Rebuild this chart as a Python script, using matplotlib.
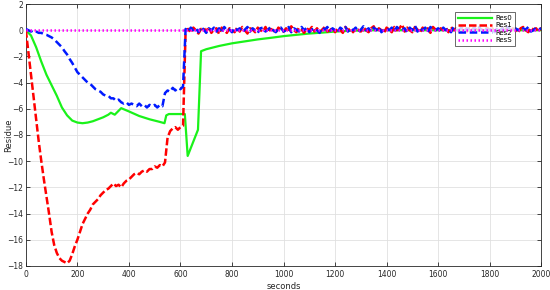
import numpy as np
import matplotlib
matplotlib.use("Agg")
import matplotlib.pyplot as plt

# sample times (s)
t = np.arange(0, 2001, 10)

# Res0 (smooth) knots
t0 = [0, 20, 40, 60, 80, 100, 120, 140, 160, 180, 200, 220, 240, 260, 280, 300, 320, 330,
      345, 370, 400, 440, 480, 520, 538, 545, 555, 617, 628, 668, 680, 700, 750, 800, 850,
      900, 950, 1000, 1050, 1100, 1150, 1200, 1250, 1300, 1350, 2000]
res0 = [0, -0.4, -1.3, -2.4, -3.4, -4.2, -5.0, -5.9, -6.5, -6.9, -7.05, -7.1, -7.05, -6.95,
        -6.8, -6.65, -6.45, -6.3, -6.45, -5.95, -6.2, -6.55, -6.8, -7.0, -7.1, -6.5, -6.4,
        -6.4, -9.6, -7.6, -1.6, -1.45, -1.2, -1.0, -0.85, -0.7, -0.58, -0.45, -0.35, -0.25,
        -0.18, -0.1, -0.05, -0.02, 0.0, 0.0]

res1 = [0.0, -1.7, -3.4, -5.1, -6.8, -8.5, -10.0, -11.4, -12.7, -14.0,
        -15.4, -16.4, -17.0, -17.4, -17.6, -17.7, -17.8, -17.6, -17.1, -16.5,
        -16.0, -15.4, -14.8, -14.4, -14.0, -13.7, -13.3, -13.1, -12.9, -12.6,
        -12.4, -12.2, -12.1, -11.9, -11.7, -11.9, -11.8, -12.0, -11.7, -11.5,
        -11.4, -11.2, -11.0, -10.9, -11.0, -10.8, -10.7, -10.8, -10.6, -10.6,
        -10.4, -10.5, -10.3, -10.4, -10.1, -8.2, -7.7, -7.5, -7.4, -7.6,
        -7.4, -7.3, 0.0,
        0.1, -0.2, 0.2, 0.0, -0.25, 0.1, 0.2, -0.1, 0.25, -0.2,
        0.05, 0.15, -0.3, 0.2, 0.0, -0.2, 0.15, 0.05, -0.15, 0.2,
        -0.1, 0.25, 0.0, -0.25, 0.15, 0.05, -0.15, 0.2, 0.0, -0.1,
        0.25, -0.15, 0.1, 0.0, -0.2, 0.2, 0.05, -0.1, 0.15, -0.15,
        0.3, 0.0, -0.15, 0.2, 0.05, -0.2, 0.15, 0.0, 0.25, -0.1,
        0.15, -0.15, 0.05, 0.25, -0.1, 0.0, 0.2, -0.15, 0.15, 0.05,
        -0.2, 0.25, 0.0, 0.15, -0.15, 0.2, 0.05, -0.1, 0.25, 0.0,
        -0.15, 0.15, 0.3, -0.1, 0.15, 0.0, -0.2, 0.2, 0.05, -0.15,
        0.25, 0.0, 0.15, 0.45, -0.1, 0.2, 0.0, -0.15, 0.25, 0.05,
        -0.15, 0.2, 0.0, 0.15, -0.2, 0.25, 0.05, -0.1, 0.15, 0.0,
        0.2, -0.15, 0.25, 0.0, 0.15, -0.1, 0.2, 0.05, -0.15, 0.15,
        0.0, 0.25, -0.1, 0.15, 0.05, -0.15, 0.2, 0.0, 0.15, -0.1,
        0.05, -0.15, 0.2, 0.0, 0.25, -0.1, 0.15, 0.0, -0.2, 0.15,
        0.25, 0.0, -0.15, 0.2, 0.05, 0.15, -0.1, 0.2]

res2 = [0.1, 0.0, -0.1, 0.0, -0.1, -0.2, -0.2, -0.3, -0.35, -0.45,
        -0.55, -0.7, -0.9, -1.1, -1.3, -1.6, -1.85, -2.2, -2.5, -2.85,
        -3.2, -3.4, -3.6, -3.8, -4.0, -4.1, -4.3, -4.5, -4.6, -4.7,
        -4.9, -5.0, -5.0, -5.2, -5.2, -5.4, -5.3, -5.5, -5.6, -5.5,
        -5.7, -5.6, -5.7, -5.8, -5.6, -5.8, -5.7, -5.9, -5.7, -5.8,
        -5.7, -5.9, -5.7, -5.8, -4.8, -4.6, -4.7, -4.4, -4.6, -4.4,
        -4.5, -4.3, 0.1,
        -0.1, 0.2, 0.0, 0.15, -0.15, 0.25, 0.05, -0.2, 0.15, 0.0,
        0.2, -0.1, 0.15, -0.2, 0.25, 0.0, 0.05, -0.15, 0.2, 0.0,
        0.15, -0.15, 0.05, 0.25, -0.1, 0.15, 0.0, -0.2, 0.15, 0.2,
        -0.1, 0.05, 0.25, 0.0, -0.15, 0.15, 0.2, -0.1, 0.0, 0.25,
        -0.15, 0.15, 0.05, -0.1, 0.25, 0.0, 0.2, -0.15, 0.05, 0.15,
        0.0, -0.2, 0.2, 0.05, 0.25, -0.1, 0.15, 0.0, -0.15, 0.2,
        0.05, 0.25, -0.1, 0.15, 0.0, 0.2, -0.15, 0.05, 0.3, 0.0,
        0.15, -0.1, 0.2, 0.0, 0.25, -0.15, 0.05, 0.15, 0.0, 0.2,
        -0.1, 0.25, 0.05, 0.0, 0.15, -0.15, 0.2, 0.0, 0.35, -0.1,
        0.15, 0.0, 0.2, -0.15, 0.25, 0.05, 0.0, 0.15, -0.1, 0.2,
        0.0, 0.15, -0.15, 0.25, 0.05, 0.0, 0.2, -0.1, 0.15, 0.05,
        -0.15, 0.2, 0.0, 0.25, -0.1, 0.15, 0.05, 0.0, 0.2, -0.15,
        0.2, 0.0, 0.15, -0.1, 0.25, 0.05, -0.15, 0.15, 0.0, 0.2,
        0.15, 0.05, 0.25, -0.1, 0.0, 0.2, 0.05, 0.15]

resS_t = [0, 2000]
resS = [0, 0]

labels = ["Res0", "Res1", "Res2", "ResS"]
xticks = list(range(0, 2001, 200))
yticks = list(range(-18, 3, 2))

fig = plt.figure(figsize=(5.5, 2.9), dpi=100)
ax = fig.add_axes([0.047, 0.083, 0.937, 0.903])

ax.plot(t0, res0, color=(0.1, 0.95, 0.1), lw=1.6, label=labels[0], zorder=3)
ax.plot(t, res1, color=(1.0, 0.0, 0.0), lw=1.8, ls=(0, (3, 1.2)), label=labels[1], zorder=4)
ax.plot(t, res2, color=(0.0, 0.1, 1.0), lw=1.8, ls=(0, (3, 1.5)), label=labels[2], zorder=5)
ax.plot(resS_t, resS, color=(1.0, 0.0, 1.0), lw=1.8, ls=(0, (0.6, 1.0)), label=labels[3], zorder=6)

ax.set_xlim(0, 2000)
ax.set_ylim(-18, 2)
ax.set_xticks(xticks)
ax.set_yticks(yticks)
ax.grid(True, color=(0.88, 0.88, 0.88), lw=0.6)
ax.set_axisbelow(True)
for s in ax.spines.values():
    s.set_color((0.15, 0.15, 0.15))
    s.set_linewidth(0.6)
ax.tick_params(direction="in", length=3, width=0.6, top=True, right=True,
               labelsize=5.5, colors=(0.15, 0.15, 0.15), pad=3)
ax.tick_params(axis="y", pad=2)
ax.set_xlabel("seconds", fontsize=6, color=(0.15, 0.15, 0.15), labelpad=2)
ax.set_ylabel("Residue", fontsize=6, color=(0.15, 0.15, 0.15), va="center")
ax.yaxis.set_label_coords(-0.033, 0.5)

leg = ax.legend(loc="upper right", fontsize=5, frameon=True, fancybox=False,
                edgecolor=(0.15, 0.15, 0.15), borderpad=0.4, labelspacing=0.2,
                handlelength=5.0, handletextpad=0.4, bbox_to_anchor=(0.955, 0.982))
leg.get_frame().set_linewidth(0.6)

fig.savefig("out.png", dpi=100)
